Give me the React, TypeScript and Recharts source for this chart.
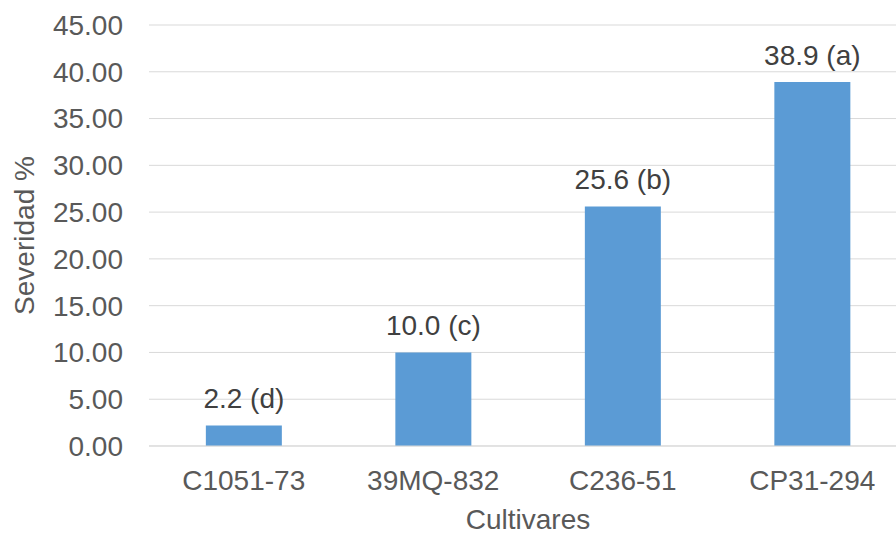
import React from 'react';
import { BarChart, Bar, XAxis, YAxis, CartesianGrid, LabelList, Label } from 'recharts';

const cultivares = ['C1051-73', '39MQ-832', 'C236-51', 'CP31-294'];
const severidad = [2.2, 10.0, 25.6, 38.9];
const grupos = ['d', 'c', 'b', 'a'];
const yTicks = [0, 5, 10, 15, 20, 25, 30, 35, 40, 45];

const data = cultivares.map((cultivar, i) => ({
  cultivar,
  severidad: severidad[i],
  etiqueta: `${severidad[i].toFixed(1)} (${grupos[i]})`,
}));

const FONT = '"Liberation Sans", Arial, sans-serif';
const AXIS_TEXT = '#595959';
const LABEL_TEXT = '#404040';
const GRID = '#d9d9d9';
const BAR = '#5B9BD5';

const YTitle = (props: any) => {
  const { x, y, height } = props.viewBox;
  const cx = x + 24;
  const cy = y + height / 2;
  return (
    <text
      x={cx}
      y={cy}
      transform={`rotate(-90 ${cx} ${cy})`}
      textAnchor="middle"
      dominantBaseline="central"
      fill={AXIS_TEXT}
      fontSize={28}
      fontFamily={FONT}
    >
      Severidad %
    </text>
  );
};

export default function App() {
  return (
    <div style={{ position: 'absolute', left: 0, top: 0, width: 896, height: 535, overflow: 'hidden', background: '#fff' }}>
      <BarChart
        width={907}
        height={535}
        data={data}
        margin={{ top: 25, right: 0, bottom: 0, left: 0 }}
        barCategoryGap="30%"
      >
        <CartesianGrid horizontal vertical={false} stroke={GRID} strokeWidth={1} />
        <XAxis
          dataKey="cultivar"
          height={89}
          tickLine={false}
          tickSize={0}
          tickMargin={24}
          axisLine={{ stroke: GRID }}
          tick={{ fill: AXIS_TEXT, fontSize: 28, fontFamily: FONT }}
          interval={0}
        >
          <Label
            value="Cultivares"
            position="insideBottom"
            offset={6}
            fill={AXIS_TEXT}
            fontSize={28}
            fontFamily={FONT}
          />
        </XAxis>
        <YAxis
          width={149}
          domain={[0, 45]}
          ticks={yTicks}
          interval={0}
          axisLine={false}
          tickLine={false}
          tickSize={0}
          tickMargin={26}
          tickFormatter={(v: number) => v.toFixed(2)}
          tick={{ fill: AXIS_TEXT, fontSize: 28, fontFamily: FONT }}
        >
          <Label content={<YTitle />} />
        </YAxis>
        <Bar dataKey="severidad" fill={BAR} isAnimationActive={false}>
          <LabelList
            dataKey="etiqueta"
            position="top"
            offset={17}
            fill={LABEL_TEXT}
            fontSize={28}
            fontFamily={FONT}
          />
        </Bar>
      </BarChart>
    </div>
  );
}
